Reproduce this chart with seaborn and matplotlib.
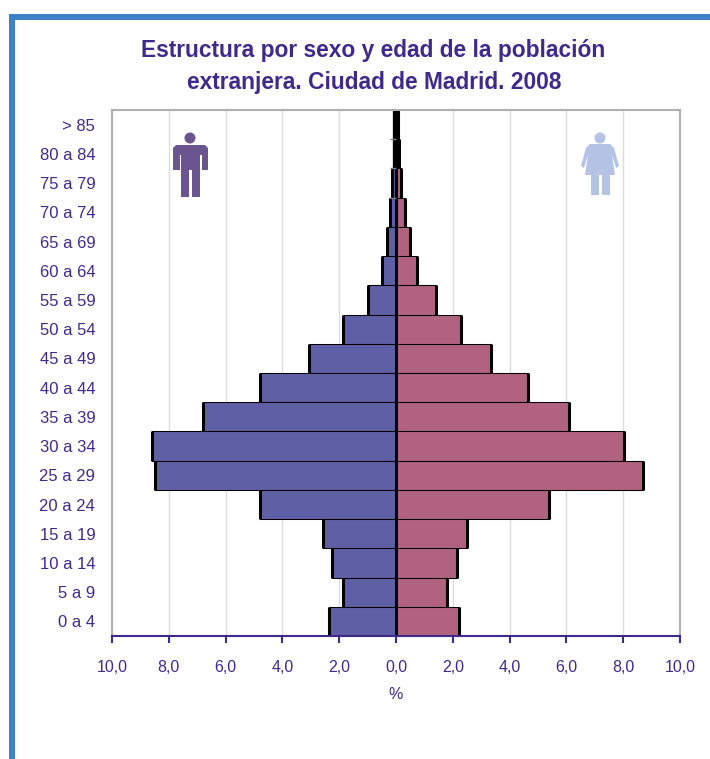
"""
Piramide de poblacion extranjera, Ciudad de Madrid 2008
"""
import numpy as np
import pandas as pd
import matplotlib
matplotlib.use('Agg')
import matplotlib.pyplot as plt
import seaborn as sns
from matplotlib.patches import Polygon, Circle, Rectangle
from matplotlib.transforms import Affine2D

# Data, oldest group first (top of the pyramid)
grupos = ['> 85', '80 a 84', '75 a 79', '70 a 74', '65 a 69', '60 a 64', '55 a 59',
          '50 a 54', '45 a 49', '40 a 44', '35 a 39', '30 a 34', '25 a 29', '20 a 24',
          '15 a 19', '10 a 14', '5 a 9', '0 a 4']
hombres = [0.05, 0.08, 0.15, 0.22, 0.33, 0.48, 0.98, 1.88, 3.08, 4.78, 6.8, 8.58, 8.5, 4.78,
           2.58, 2.27, 1.88, 2.37]
mujeres = [0.07, 0.1, 0.18, 0.32, 0.48, 0.75, 1.4, 2.3, 3.35, 4.65, 6.1, 8.03, 8.7, 5.4,
           2.5, 2.15, 1.8, 2.23]
ticks_x = [-10, -8, -6, -4, -2, 0, 2, 4, 6, 8, 10]
etiquetas_x = ['10,0', '8,0', '6,0', '4,0', '2,0', '0,0', '2,0', '4,0', '6,0', '8,0', '10,0']

MORADO = '#3f2a8c'
AZUL_H = '#5f5fa5'
ROSA_M = '#b1627f'

sns.set_style('white')
plt.rcParams['font.family'] = ['Liberation Sans', 'DejaVu Sans']

df = pd.DataFrame({
    'grupo': grupos * 2,
    'valor': [-v for v in hombres] + mujeres,
    'sexo': ['Hombres'] * len(grupos) + ['Mujeres'] * len(grupos),
})

W, H = 710, 759
fig = plt.figure(figsize=(W / 100, H / 100), dpi=100)
ax = fig.add_axes([112 / W, 1 - 636 / H, 568 / W, 526 / H])

# pixel coordinates for the frame and the icons
px = Affine2D().scale(1 / W, -1 / H).translate(0, 1) + fig.transFigure

ax.xaxis.grid(True, color='#dcdcdc', linewidth=1)
ax.set_axisbelow(True)

sns.barplot(data=df, y='grupo', x='valor', hue='sexo', order=grupos, dodge=False,
            palette={'Hombres': AZUL_H, 'Mujeres': ROSA_M}, width=1.0, saturation=1,
            edgecolor='black', linewidth=0.75, legend=False, ax=ax)

# the side edges of the bars look heavier than the horizontal ones
y = np.arange(len(grupos))
ax.vlines(-np.array(hombres), y - 0.5, y + 0.5, color='black', linewidth=2.2)
ax.vlines(mujeres, y - 0.5, y + 0.5, color='black', linewidth=2.2)
ax.axvline(0, color='black', linewidth=2.2)
ax.vlines(0, -0.5, 1.5, color='black', linewidth=4.5)
ax.hlines(y[:3] + 0.5, -0.2, 0, color='#808080', linewidth=1)

ax.set_xlim(-10, 10)
ax.set_ylim(len(grupos) - 0.5, -0.5)
ax.set_xticks(ticks_x)
ax.set_xticklabels(etiquetas_x)
ax.set_xlabel('%', fontsize=11.5, color=MORADO, labelpad=9)
ax.set_ylabel('')
ax.tick_params(axis='x', length=5, width=1.5, color=MORADO, labelcolor=MORADO,
               labelsize=11.5, pad=12, bottom=True)
ax.tick_params(axis='y', length=0, labelcolor=MORADO, labelsize=12, pad=12)

for lado in ['left', 'top', 'right']:
    ax.spines[lado].set_visible(True)
    ax.spines[lado].set_color('#b0b0b0')
    ax.spines[lado].set_linewidth(1.5)
ax.spines['bottom'].set_visible(True)
ax.spines['bottom'].set_color(MORADO)
ax.spines['bottom'].set_linewidth(1.5)

# blue frame, left and top only
fig.add_artist(Rectangle((9, 14), 6, H - 14, transform=px, color='#3d82c4', lw=0))
fig.add_artist(Rectangle((9, 14), W - 9, 6, transform=px, color='#3d82c4', lw=0))

# man icon
COLOR_H = '#6b5590'
fig.add_artist(Circle((190, 138), 5.5, transform=px, color=COLOR_H, lw=0))
fig.add_artist(Polygon([(176, 145), (205, 145), (208, 148), (208, 170), (202, 170), (202, 155),
                        (200, 155), (200, 197), (192, 197), (192, 170), (189, 170), (189, 197),
                        (181, 197), (181, 155), (180, 155), (180, 170), (173, 170), (173, 148)],
                       transform=px, color=COLOR_H, lw=0))

# woman icon
COLOR_M = '#b4c3e4'
fig.add_artist(Circle((600, 138), 5.5, transform=px, color=COLOR_M, lw=0))
fig.add_artist(Polygon([(590, 144), (610, 144), (614, 148), (619, 166), (616, 168), (612, 155),
                        (615, 175), (610, 175), (610, 195), (602, 195), (602, 175), (599, 175),
                        (599, 195), (591, 195), (591, 175), (585, 175), (588, 155), (584, 168),
                        (581, 166), (586, 148)],
                       transform=px, color=COLOR_M, lw=0))

fig.text(373.5 / W, 1 - 51 / H, 'Estructura por sexo y edad de la población',
         ha='center', va='center', fontsize=16.4, fontweight='bold', color=MORADO)
fig.text(374.5 / W, 1 - 82 / H, 'extranjera. Ciudad de Madrid. 2008',
         ha='center', va='center', fontsize=16.4, fontweight='bold', color=MORADO)

plt.savefig('out.png', dpi=100)
